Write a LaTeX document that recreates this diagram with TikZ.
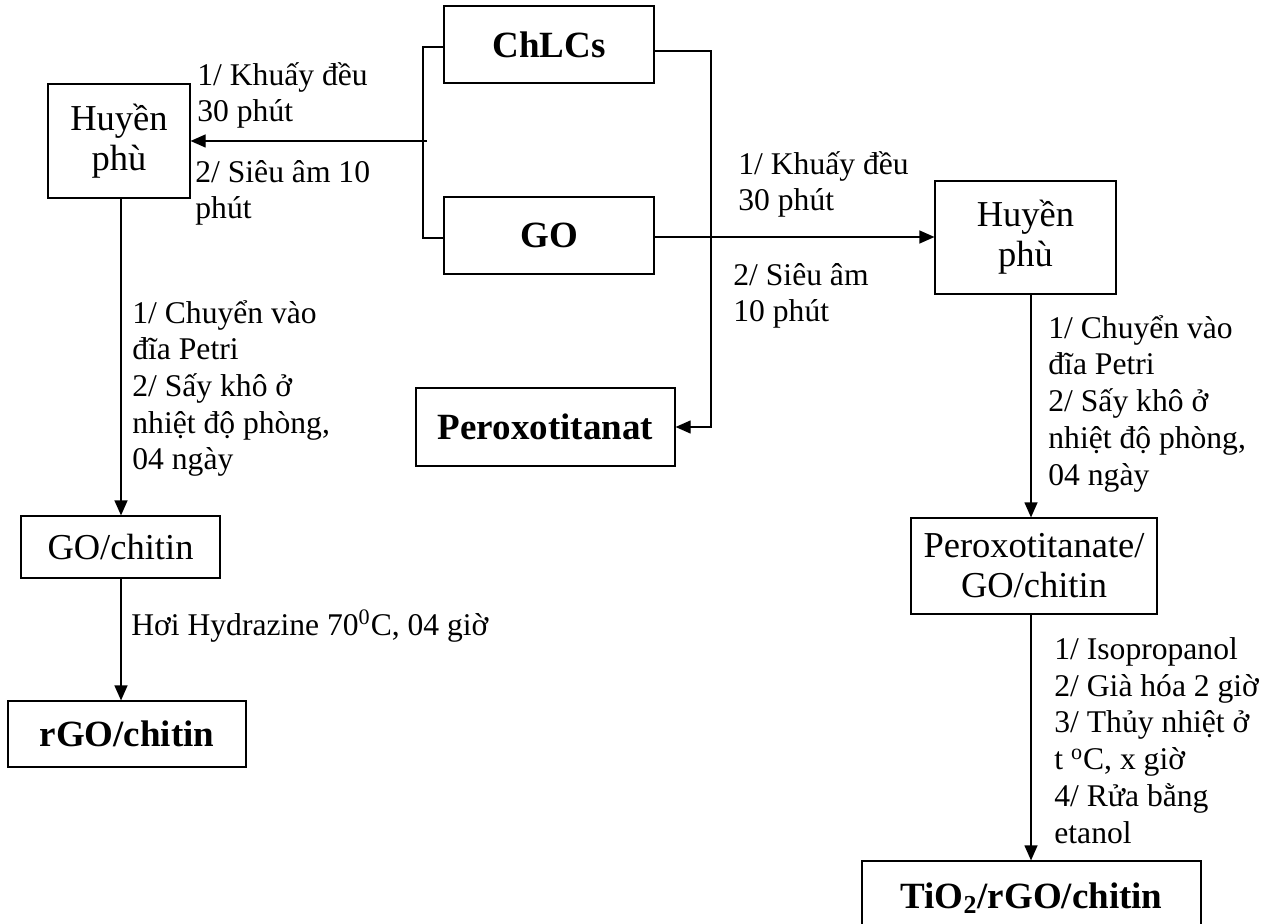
\documentclass[tikz,border=0pt]{standalone}
\usepackage{fontspec}
\setmainfont{Liberation Serif}
\usetikzlibrary{arrows.meta}

\begin{document}
\begin{tikzpicture}[x=0.5pt,y=-0.5pt,
    lbl/.style={anchor=base west,align=left,inner sep=0pt,
                font=\fontsize{15.8}{18.35}\selectfont},
    arr/.style={-{Triangle[length=7.5pt,width=6.5pt]}}]
\useasboundingbox (0,0) rectangle (1278,924);

\begin{scope}[every node/.style={draw,line width=0.6pt,inner sep=0pt,align=center,
              font=\fontsize{18.25}{20}\selectfont}]
    \node[minimum width=105pt,minimum height=38.5pt,font=\fontsize{18.5}{20}\bfseries] (ChLCs) at (549,44.5) {ChLCs};
    \node[minimum width=105pt,minimum height=38.5pt,font=\fontsize{18.5}{20}\bfseries] (GO) at (549,235.5) {GO};
    \node[minimum width=129.5pt,minimum height=39pt,font=\fontsize{18.5}{20}\bfseries] (Perox) at (545.5,427) {Peroxotitanat};

    \node[minimum width=71pt,minimum height=57pt] (HuyenL) at (119,141) {Huyền\\phù};
    \node[minimum width=99.5pt,minimum height=31pt] (GOCh) at (120.5,547) {GO/chitin};
    \node[minimum width=119pt,minimum height=33pt,font=\fontsize{18.5}{20}\bfseries] (rGOCh) at (127,734) {rGO/chitin};

    \node[minimum width=90.5pt,minimum height=56.5pt] (HuyenR) at (1025.5,237.5) {Huyền\\phù};
    \node[minimum width=123pt,minimum height=48pt] (PerGOCh) at (1034,566) {Peroxotitanate/\\GO/chitin};
    \node[minimum width=169.5pt,minimum height=37pt,font=\fontsize{18.5}{20}\bfseries] (TiO) at (1031.5,898) {TiO\textsubscript{2}/rGO/chitin};
\end{scope}

% branch points of the two brackets
\coordinate (brL) at (423,141);
\coordinate (brR) at (711,141);
\coordinate (colL) at (121,0);
\coordinate (colR) at (1031,0);

\begin{scope}[line width=0.6pt]
    \draw (ChLCs.west |- 0,47) -| (brL) |- (GO.west |- 0,238);
    \draw[arr] ([xshift=2pt]brL) -- (HuyenL.east |- brL);

    \draw[arr] (ChLCs.east |- 0,51) -| (brR) |- (Perox.east);
    \draw[arr] (GO.east |- 0,237) -- (HuyenR.west |- 0,237);

    \draw[arr] (HuyenL.south -| colL) -- (GOCh.north -| colL);
    \draw[arr] (GOCh.south -| colL) -- (rGOCh.north -| colL);

    \draw[arr] (HuyenR.south -| colR) -- (PerGOCh.north -| colR);
    \draw[arr] (PerGOCh.south -| colR) -- (TiO.north -| colR);
\end{scope}

% step labels (anchored at the baseline of their last line)
\node[lbl] (stirL) at (197,122) {1/ Khuấy đều\\30 phút};
\node[lbl] (sonL) at (195,219) {2/ Siêu âm 10\\phút};
\node[lbl] (stirR) at (738,211) {1/ Khuấy đều\\30 phút};
\node[lbl] (sonR) at (733,322) {2/ Siêu âm\\10 phút};
\node[lbl] (dryL) at (132,470) {1/ Chuyển vào\\đĩa Petri\\2/ Sấy khô ở\\nhiệt độ phòng,\\04 ngày};
\node[lbl] (hydr) at (131,635) {Hơi Hydrazine 70\textsuperscript{0}C, 04 giờ};
\node[lbl] (dryR) at (1048,485) {1/ Chuyển vào\\đĩa Petri\\2/ Sấy khô ở\\nhiệt độ phòng,\\04 ngày};
\node[lbl] (hydro) at (1054,843) {1/ Isopropanol\\2/ Già hóa 2 giờ\\3/ Thủy nhiệt ở\\t \textsuperscript{o}C, x giờ\\4/ Rửa bằng\\etanol};
\end{tikzpicture}
\end{document}
